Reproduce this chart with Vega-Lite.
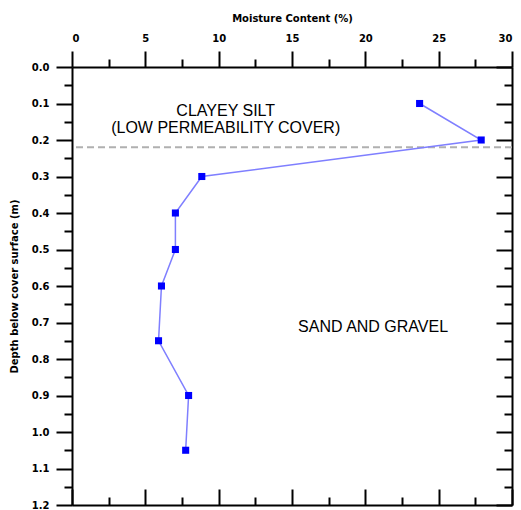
{
  "$schema": "https://vega.github.io/schema/vega-lite/v6.json",
  "width": 440,
  "height": 438,
  "autosize": {"type": "none"},
  "padding": {"left": 72, "top": 67, "right": 9, "bottom": 5},
  "background": "white",
  "config": {
    "view": {"stroke": null},
    "axis": {
      "domainColor": "black",
      "domainWidth": 2,
      "tickColor": "black",
      "tickWidth": 2,
      "grid": false,
      "labelFont": "DejaVu Sans",
      "labelFontWeight": "bold",
      "labelFontSize": 10,
      "labelColor": "black",
      "labelOverlap": false,
      "titleFont": "DejaVu Sans",
      "titleFontWeight": "bold",
      "titleFontSize": 10,
      "titleColor": "black"
    }
  },
  "datasets": {
    "moisture": [
      {"mc": 23.7, "depth": 0.1},
      {"mc": 27.9, "depth": 0.2},
      {"mc": 8.85, "depth": 0.3},
      {"mc": 7.05, "depth": 0.4},
      {"mc": 7.05, "depth": 0.5},
      {"mc": 6.1, "depth": 0.6},
      {"mc": 5.9, "depth": 0.75},
      {"mc": 7.95, "depth": 0.9},
      {"mc": 7.75, "depth": 1.05}
    ],
    "boundary": [{"depth": 0.22}],
    "notes": [
      {"text": "CLAYEY SILT", "mc": 10.48, "depth": 0.134},
      {"text": "(LOW PERMEABILITY COVER)", "mc": 10.48, "depth": 0.181},
      {"text": "SAND AND GRAVEL", "mc": 20.53, "depth": 0.726}
    ]
  },
  "layer": [
    {
      "data": {"name": "boundary"},
      "mark": {"type": "rule", "color": "#b0b0b0", "strokeWidth": 2, "strokeDash": [7, 4]},
      "encoding": {
        "y": {"field": "depth", "type": "quantitative", "scale": {"domain": [0, 1.2], "reverse": true, "nice": false, "zero": false}, "axis": null}
      }
    },
    {
      "data": {"name": "moisture"},
      "mark": {"type": "line", "color": "#7f7fff", "strokeWidth": 1.5},
      "encoding": {
        "x": {
          "field": "mc", "type": "quantitative",
          "scale": {"domain": [0, 30], "nice": false, "zero": false},
          "axis": {
            "orient": "top",
            "title": "Moisture Content (%)",
            "values": [0, 2.5, 5, 7.5, 10, 12.5, 15, 17.5, 20, 22.5, 25, 27.5, 30],
            "labelExpr": "round(datum.value*2) % 2 === 0 ? datum.label : ''",
            "tickSize": {"condition": {"test": "round(datum.value*2) % 2 === 0", "value": 16}, "value": 8},
            "labelPadding": 8,
            "titlePadding": 10
          }
        },
        "y": {
          "field": "depth", "type": "quantitative",
          "scale": {"domain": [0, 1.2], "reverse": true, "nice": false, "zero": false},
          "axis": {
            "orient": "left",
            "title": "Depth below cover surface (m)",
            "values": [0, 0.05, 0.1, 0.15, 0.2, 0.25, 0.3, 0.35, 0.4, 0.45, 0.5, 0.55, 0.6, 0.65, 0.7, 0.75, 0.8, 0.85, 0.9, 0.95, 1.0, 1.05, 1.1, 1.15, 1.2],
            "format": ".1f",
            "labelExpr": "round(datum.value*20) % 2 === 0 ? datum.label : ''",
            "tickSize": {"condition": {"test": "round(datum.value*20) % 2 === 0", "value": 16}, "value": 8},
            "labelPadding": 7,
            "titlePadding": 12
          }
        },
        "order": {"field": "depth", "type": "quantitative"}
      }
    },
    {
      "data": {"name": "moisture"},
      "mark": {"type": "point", "shape": "square", "filled": true, "color": "#0000ff", "size": 50, "opacity": 1},
      "encoding": {
        "x": {
          "field": "mc", "type": "quantitative",
          "scale": {"domain": [0, 30], "nice": false, "zero": false},
          "axis": {
            "orient": "bottom",
            "title": null,
            "labels": false,
            "values": [0, 2.5, 5, 7.5, 10, 12.5, 15, 17.5, 20, 22.5, 25, 27.5, 30],
            "tickSize": {"condition": {"test": "round(datum.value*2) % 2 === 0", "value": -16}, "value": -8}
          }
        },
        "y": {
          "field": "depth", "type": "quantitative",
          "scale": {"domain": [0, 1.2], "reverse": true, "nice": false, "zero": false},
          "axis": {
            "orient": "right",
            "title": null,
            "labels": false,
            "values": [0, 0.05, 0.1, 0.15, 0.2, 0.25, 0.3, 0.35, 0.4, 0.45, 0.5, 0.55, 0.6, 0.65, 0.7, 0.75, 0.8, 0.85, 0.9, 0.95, 1.0, 1.05, 1.1, 1.15, 1.2],
            "tickSize": {"condition": {"test": "round(datum.value*20) % 2 === 0", "value": -16}, "value": -8}
          }
        }
      }
    },
    {
      "data": {"name": "notes"},
      "mark": {"type": "text", "font": "Liberation Sans", "fontSize": 16, "color": "black", "align": "center", "baseline": "alphabetic"},
      "encoding": {
        "x": {"field": "mc", "type": "quantitative", "scale": {"domain": [0, 30], "nice": false, "zero": false}, "axis": null},
        "y": {"field": "depth", "type": "quantitative", "scale": {"domain": [0, 1.2], "reverse": true, "nice": false, "zero": false}, "axis": null},
        "text": {"field": "text", "type": "nominal"}
      }
    }
  ],
  "resolve": {"axis": {"x": "independent", "y": "independent"}}
}
